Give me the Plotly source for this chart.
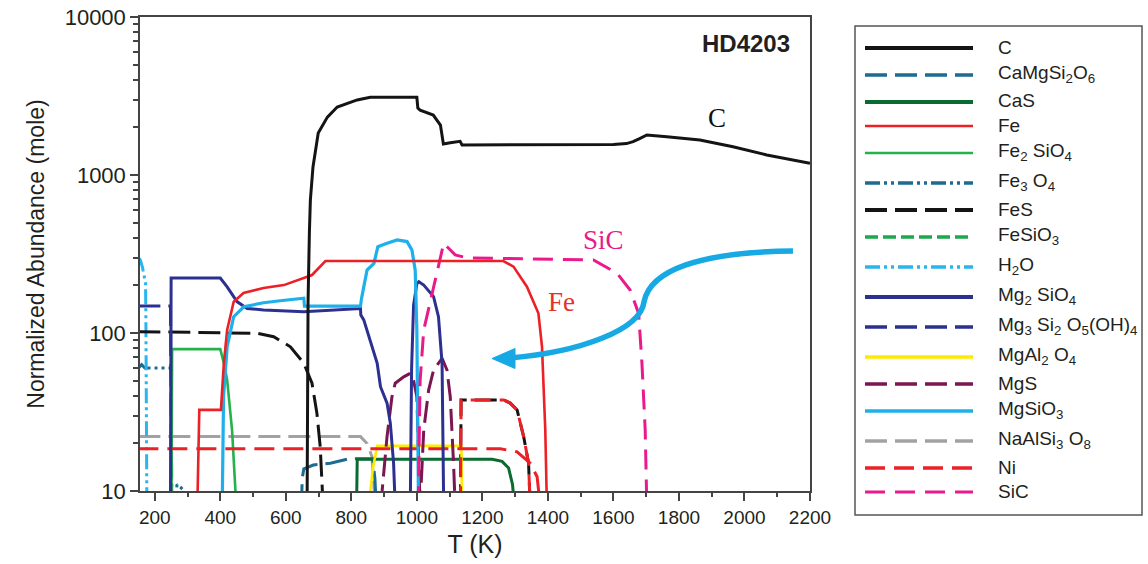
import plotly.graph_objects as go

# ---- abundance curves (temperature in K, normalized abundance in mole) ----
T_C = [665, 668, 672, 675, 683, 699, 727, 757, 818, 858, 1000, 1003, 1010, 1050, 1072, 1081,
       1102, 1132, 1138, 1193, 1559, 1600, 1640, 1660, 1680, 1702, 1763, 1864, 1965, 2068, 2200]
C = [8, 160, 430, 695, 1125, 1845, 2326, 2692, 2985, 3104, 3104, 2655, 2575, 2397, 2072, 1570,
     1600, 1634, 1549, 1549, 1549, 1560, 1580, 1625, 1700, 1792, 1747, 1666, 1510, 1340, 1186]

T_CaMgSi2O6 = [648, 650, 655, 684, 736, 787, 820, 865, 872, 876]
CaMgSi2O6 = [8, 12, 13.8, 14.6, 15, 15.9, 16, 16, 12, 8]

T_CaS = [816, 818, 1230, 1260, 1280, 1292, 1298]
CaS = [8, 15.9, 15.9, 15.4, 14, 11, 8]

T_Fe = [330, 336, 402, 411, 421, 441, 471, 532, 594, 655, 680, 721, 1264, 1295, 1336, 1371, 1382,
        1392, 1397]
Fe = [8, 32.6, 32.6, 64.6, 104.5, 157.9, 179, 192.7, 201, 222.9, 232.8, 285.6, 285.6, 263, 196.3,
      133.3, 81.9, 24.3, 8]

T_Fe2SiO4 = [251, 253, 400, 411, 421, 436, 449]
Fe2SiO4 = [8, 79, 79, 64.3, 50.5, 24.3, 8]

T_Fe3O4 = [150, 160, 170, 250, 252, None, 262, 268, 280, 290, 293]
Fe3O4 = [60, 63, 60, 60, 8, None, 8, 11, 10.5, 10, 8]

T_FeS = [150, 512, 563, 614, 655, 680, 695, 705, 714, None,
         1133, 1135, 1265, 1285, 1306, 1326, 1341, 1346]
FeS = [102, 99.6, 94.8, 81.8, 64.3, 48.1, 31, 19.1, 8, None,
       8, 37.7, 37.7, 36, 32.6, 22.1, 15, 8]

T_FeSiO3 = []
FeSiO3 = []

T_H2O = [150, 156, 162, 168, 172, 173, 174, 175, 176]
H2O = [300, 290, 263, 230, 207, 120, 50, 20, 8]

T_Mg2SiO4 = [248, 250, 400, 421, 451, 482, 532, 655, 828, 829, 838, 858, 879, 889, 909, 919, 929,
             934, None, 980, 984, 990, 1000, 1006, 1021, 1051, 1066, 1077, 1080, 1082]
Mg2SiO4 = [8, 223, 223, 196, 158, 143, 140, 136.5, 143, 130, 121, 90.3, 64.3, 45.7, 36, 26.9, 15,
           8, None, 8, 60, 150, 205, 211, 201, 170, 126.8, 64.3, 24.3, 8]

T_Mg3Si2O5OH4 = [150, 248, 252]
Mg3Si2O5OH4 = [148, 148, 8]

T_MgAl2O4 = [853, 866, 879, 1136, 1137, 1138]
MgAl2O4 = [8, 14, 19.3, 19.3, 12, 8]

T_MgS = [888, 894, 909, 924, 934, 960, 980, 990, 1000, 1005, 1010, 1021, 1036, 1051, 1077, 1092,
         1102, 1112, 1117]
MgS = [8, 10, 22.1, 39.5, 48.1, 52.8, 55.6, 50, 39.5, 20, 8, 24.3, 43.5, 58.3, 69.2, 58.3, 39.5,
       15, 8]

T_MgSiO3 = [406, 410, 421, 441, 472, 532, 583, 655, 657, 828, 831, 836, 840, 848, 869, 879, 881,
            909, 940, 970, 985, 995, 1000, 1002, 1005]
MgSiO3 = [8, 39.5, 81.8, 126.8, 146.5, 155.5, 160, 166, 148, 148, 165, 185, 200, 250, 276, 335,
          352, 370, 388, 379, 335, 250, 104.5, 39.5, 8]

T_NaAlSi3O8 = [150, 828, 848, 863, 873]
NaAlSi3O8 = [22.1, 22.1, 20, 16.5, 8]

T_Ni = [150, 1255, 1306, 1346, 1367, 1377, None, 1133, 1135, 1265, 1285, 1306, 1326, 1341, 1346]
Ni = [18.5, 18.5, 17.7, 15, 12.3, 8, None, 8, 37.7, 37.7, 36, 32.6, 22.1, 15, 8]

T_SiC = [1004, 1010, 1021, 1051, 1082, 1117, 1153, 1539, 1611, 1651, 1677, 1687, 1697, 1702]
SiC = [8, 50, 104.5, 196.3, 370, 312, 299, 290, 239, 187, 133, 64.6, 24.3, 8]

# ---- axis ticks ----
x_tickvals = [200, 400, 600, 800, 1000, 1200, 1400, 1600, 1800, 2000, 2200]
y_tickvals = [10, 100, 1000, 10000]
y_ticktext = ["10", "100", "1000", "10000"]

# ---- species: legend label, data, colour, dash, plot width, legend width ----
species = [
    ("C", T_C, C, "#141414", "solid", 3.0, 4.0),
    ("CaMgSi<sub>2</sub>O<sub>6</sub>", T_CaMgSi2O6, CaMgSi2O6, "#1D6B91", "22px,8px", 3.0, 3.5),
    ("CaS", T_CaS, CaS, "#0B6A30", "solid", 3.0, 4.0),
    ("Fe", T_Fe, Fe, "#EC2027", "solid", 2.6, 2.6),
    ("Fe<sub>2</sub> SiO<sub>4</sub>", T_Fe2SiO4, Fe2SiO4, "#27B14B", "solid", 2.6, 2.6),
    ("Fe<sub>3</sub> O<sub>4</sub>", T_Fe3O4, Fe3O4, "#1D6B91", "15px,4px,3px,4px,3px,4px", 3.0, 3.5),
    ("FeS", T_FeS, FeS, "#141414", "22px,8px", 3.0, 4.0),
    ("FeSiO<sub>3</sub>", T_FeSiO3, FeSiO3, "#1DA84E", "13px,5px", 3.0, 3.5),
    ("H<sub>2</sub>O", T_H2O, H2O, "#29B5EE", "15px,4px,3px,4px,3px,4px", 3.0, 3.5),
    ("Mg<sub>2</sub> SiO<sub>4</sub>", T_Mg2SiO4, Mg2SiO4, "#2B3091", "solid", 3.0, 4.0),
    ("Mg<sub>3</sub> Si<sub>2</sub> O<sub>5</sub>(OH)<sub>4</sub>", T_Mg3Si2O5OH4, Mg3Si2O5OH4,
     "#2B3091", "22px,8px", 3.0, 3.5),
    ("MgAl<sub>2</sub> O<sub>4</sub>", T_MgAl2O4, MgAl2O4, "#FFEA00", "solid", 2.6, 3.5),
    ("MgS", T_MgS, MgS, "#7B1650", "22px,8px", 3.0, 3.5),
    ("MgSiO<sub>3</sub>", T_MgSiO3, MgSiO3, "#1DB0EA", "solid", 3.2, 3.5),
    ("NaAlSi<sub>3</sub> O<sub>8</sub>", T_NaAlSi3O8, NaAlSi3O8, "#A2A2A2", "22px,8px", 3.0, 3.5),
    ("Ni", T_Ni, Ni, "#EC2027", "20px,9px", 3.0, 3.5),
    ("SiC", T_SiC, SiC, "#EA1A8C", "20px,10px", 3.0, 3.0),
]
draw_order = ["NaAlSi", "CaMgSi", "Fe<sub>3", "H<sub>2", "Mg<sub>3", "FeS", "Fe<sub>2",
              "CaS", "MgAl", "Ni", "MgS", "Mg<sub>2", "MgSiO", "SiC", "FeSiO", "Fe", "C"]

fig = go.Figure()
used = set()
for key in draw_order:
    for i, sp in enumerate(species):
        if i in used:
            continue
        if sp[0] == key or (len(key) > 2 and sp[0].startswith(key)):
            used.add(i)
            name, xs, ys, color, dash, w, _ = sp
            fig.add_trace(go.Scatter(
                x=xs, y=ys, mode="lines", name=name, showlegend=False,
                line=dict(color=color, dash=dash, width=w), connectgaps=False,
            ))
            break

# ---- plot-area geometry in pixels (for paper-space decorations) ----
L, R, TOP, BOT = 140, 810, 17, 491


def px(x):
    return (x - L) / (R - L)


def py(y):
    return (BOT - y) / (BOT - TOP)


shapes = []
annotations = []

# legend box with long line samples
shapes.append(dict(type="rect", xref="paper", yref="paper",
                   x0=px(855), x1=px(1142), y0=py(515), y1=py(26),
                   line=dict(color="#555555", width=1.5), fillcolor="white", layer="below"))
row_y = 48
prev_sub = False
for i, (name, xs, ys, color, dash, w, lw) in enumerate(species):
    has_sub = "<sub>" in name
    if i > 0:
        row_y += 24 + (3 if prev_sub else 0) + (3 if has_sub else 0)
    prev_sub = has_sub
    shapes.append(dict(type="line", xref="paper", yref="paper",
                       x0=px(865), x1=px(973), y0=py(row_y), y1=py(row_y),
                       line=dict(color=color, width=lw, dash=dash)))
    annotations.append(dict(xref="paper", yref="paper", x=px(996), y=py(row_y - 1),
                            xanchor="left", yanchor="middle", showarrow=False, text=name,
                            font=dict(family="Liberation Sans", size=19, color="#231F20")))

# curved pointer arrow
arrow_path = ("M {:.4f},{:.4f} C {:.4f},{:.4f} {:.4f},{:.4f} {:.4f},{:.4f} "
              "C {:.4f},{:.4f} {:.4f},{:.4f} {:.4f},{:.4f}").format(
    px(793), py(251), px(700), py(252), px(650), py(270), px(644), py(302),
    px(640), py(330), px(580), py(352), px(510), py(358))
shapes.append(dict(type="path", xref="paper", yref="paper", path=arrow_path,
                   line=dict(color="#16A9E4", width=5.5)))
head_path = "M {:.4f},{:.4f} L {:.4f},{:.4f} L {:.4f},{:.4f} Z".format(
    px(492), py(358.5), px(515), py(348.5), px(515), py(368.5))
shapes.append(dict(type="path", xref="paper", yref="paper", path=head_path,
                   fillcolor="#16A9E4", line=dict(color="#16A9E4", width=1)))

# curve labels and sample name
label_style = dict(xref="paper", yref="paper", showarrow=False, xanchor="center",
                   yanchor="middle")
annotations += [
    dict(label_style, x=px(717), y=py(118), text="C",
         font=dict(family="Liberation Serif", size=27, color="#111111")),
    dict(label_style, x=px(603), y=py(240), text="SiC",
         font=dict(family="Liberation Serif", size=27, color="#E8198B")),
    dict(label_style, x=px(561), y=py(302), text="Fe",
         font=dict(family="Liberation Serif", size=27, color="#E8302B")),
    dict(label_style, x=px(746), y=py(43), text="<b>HD4203</b>",
         font=dict(family="Liberation Sans", size=24, color="#231F20")),
]

y_minor = [m * 10 ** e for e in (1, 2, 3) for m in range(2, 10)]

fig.update_layout(
    width=1148, height=564,
    margin=dict(l=L, r=1148 - R, t=TOP, b=564 - BOT),
    paper_bgcolor="white", plot_bgcolor="white",
    font=dict(family="Liberation Sans", color="#231F20"),
    shapes=shapes, annotations=annotations, showlegend=False,
    xaxis=dict(
        range=[155, 2200], tickvals=x_tickvals, ticks="outside", ticklen=8, tickwidth=1.5,
        tickcolor="#444444", showline=True, linecolor="#444444", linewidth=1.5, mirror=True,
        showgrid=False, zeroline=False, tickfont=dict(size=19), automargin=False,
        minor=dict(dtick=100, tick0=100, ticks="outside", ticklen=4, tickcolor="#444444",
                   showgrid=False),
        title=dict(text="T (K)", font=dict(size=25), standoff=9),
    ),
    yaxis=dict(
        type="log", range=[1, 4], tickvals=y_tickvals, ticktext=y_ticktext, ticks="outside",
        ticklen=8, tickwidth=1.5, tickcolor="#444444", showline=True, linecolor="#444444",
        linewidth=1.5, mirror=True, showgrid=False, zeroline=False, tickfont=dict(size=22),
        automargin=False,
        minor=dict(tickvals=y_minor, ticks="outside", ticklen=5, tickcolor="#444444",
                   showgrid=False),
        title=dict(text="Normalized Abundance (mole)", font=dict(size=23), standoff=14),
    ),
)

fig.write_html("out.html")
